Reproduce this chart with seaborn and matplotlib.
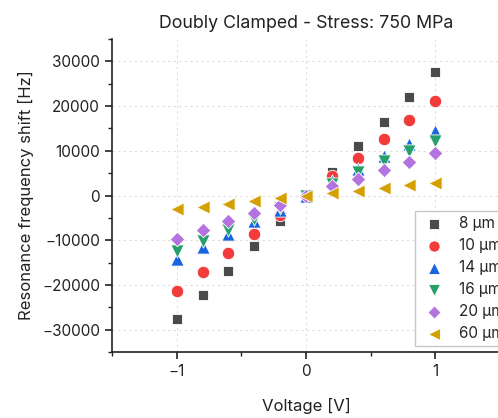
import numpy as np
import pandas as pd
import matplotlib
matplotlib.use("Agg")
import matplotlib.pyplot as plt
import seaborn as sns
from matplotlib.ticker import MultipleLocator, FuncFormatter

voltage = [-1.0, -0.8, -0.6, -0.4, -0.2, 0.0, 0.2, 0.4, 0.6, 0.8, 1.0]
labels = ["8 μm", "10 μm", "14 μm", "16 μm", "20 μm", "60 μm"]
shift_8 = [-27600, -22200, -16800, -11200, -5600, 0, 5300, 11000, 16500, 22000, 27600]
shift_10 = [-21300, -17100, -12800, -8500, -4300, 0, 4300, 8400, 12700, 16900, 21200]
shift_14 = [-14300, -11500, -8600, -5700, -3200, 0, 3300, 6000, 8900, 11500, 14400]
shift_16 = [-12500, -10200, -7800, -5200, -2900, 0, 2600, 5200, 7700, 9900, 12300]
shift_20 = [-9700, -7800, -5800, -3900, -2100, 0, 2200, 3800, 5600, 7500, 9500]
shift_60 = [-3100, -2500, -1900, -1300, -600, 0, 500, 1100, 1700, 2400, 2900]

series = [shift_8, shift_10, shift_14, shift_16, shift_20, shift_60]
colors = ["#4a4a4a", "#f23c3c", "#1a64dc", "#26a06a", "#b474e0", "#d4a000"]
markers = ["s", "o", "^", "v", "D", "<"]
sizes = [60, 80, 90, 90, 55, 90]

sns.set_style("ticks")
plt.rcParams["font.family"] = ["Inter", "DejaVu Sans"]
plt.rcParams["axes.unicode_minus"] = True

fig = plt.figure(figsize=(4.98, 4.18), dpi=100)
ax = fig.add_axes([112/498, 66/418, 388/498, 313/418])

for lab, vals, c, m, s in zip(labels, series, colors, markers, sizes):
    d = pd.DataFrame({"Voltage": voltage, "Shift": vals})
    sns.scatterplot(data=d, x="Voltage", y="Shift", color=c, marker=m, s=s,
                    edgecolor="white", linewidth=0.6, ax=ax, zorder=3, label=lab)

ax.set_xlim(-1.5, 1.5)
ax.set_ylim(-35000, 35000)
ax.xaxis.set_major_locator(MultipleLocator(1))
ax.xaxis.set_minor_locator(MultipleLocator(0.5))
ax.yaxis.set_major_locator(MultipleLocator(10000))
ax.yaxis.set_minor_locator(MultipleLocator(5000))
ax.xaxis.set_major_formatter(FuncFormatter(lambda v, p: f"{v:.0f}".replace("-", "\u2212")))
ax.yaxis.set_major_formatter(FuncFormatter(lambda v, p: f"{v:.0f}".replace("-", "\u2212")))

ax.grid(True, which="major", linestyle=(0, (2, 3)), color="#dddddd", linewidth=0.8)
ax.set_axisbelow(True)
for side in ["top", "right"]:
    ax.spines[side].set_visible(False)
for side in ["left", "bottom"]:
    ax.spines[side].set_linewidth(1.2)
    ax.spines[side].set_color("#222222")
ax.tick_params(which="major", direction="out", length=5, width=1.2, labelsize=11, colors="#222222")
ax.tick_params(which="minor", direction="out", length=3, width=1.0, colors="#222222")

ax.set_xlabel("Voltage [V]", fontsize=12, labelpad=14, color="#222222")
ax.set_ylabel("Resonance frequency shift [Hz]", fontsize=12, labelpad=6, color="#222222")
ax.set_title("Doubly Clamped - Stress: 750 MPa", fontsize=12.8, pad=8, color="#222222")

leg = ax.legend(loc="upper left", bbox_to_anchor=(0.781, 0.4505), borderaxespad=0,
                frameon=True, fancybox=False, fontsize=11, handletextpad=0.7,
                handlelength=1.8, borderpad=0.35, labelspacing=0.45, markerscale=0.9)
leg.get_frame().set_edgecolor("#bbbbbb")
leg.get_frame().set_linewidth(1.0)

fig.savefig("out.png", dpi=100)
